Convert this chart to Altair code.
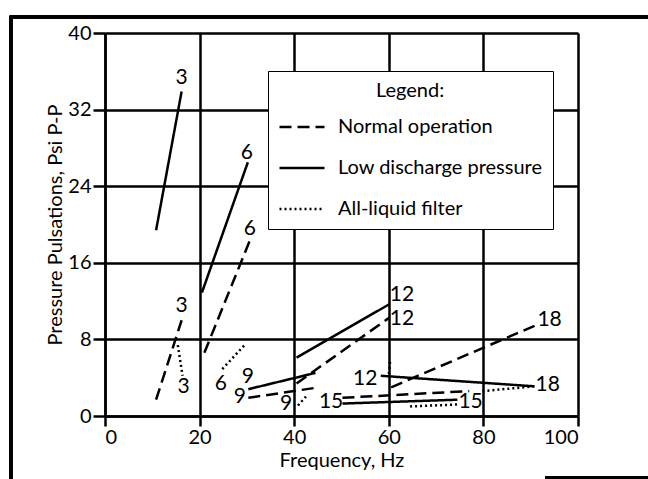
import altair as alt
import pandas as pd

FONT = "Lato"

series_names = ["Normal operation", "Low discharge pressure", "All-liquid filter"]

# Normal operation (dashed)
normal_case = ["3", "6", "9", "12", "15", "18"]
normal_f1 = [10.8, 21.0, 30.3, 40.5, 50.2, 60.5]
normal_p1 = [1.7, 6.6, 1.9, 3.4, 1.9, 3.0]
normal_f2 = [16.2, 30.6, 45.3, 60.2, 77.0, 91.2]
normal_p2 = [10.0, 18.3, 3.0, 10.3, 2.6, 9.5]

# Low discharge pressure (solid)
low_case = ["3", "6", "9", "12", "15", "18"]
low_f1 = [10.8, 20.5, 30.3, 40.5, 50.2, 58.3]
low_p1 = [19.4, 12.9, 2.8, 6.1, 1.3, 4.2]
low_f2 = [16.2, 30.2, 44.5, 60.2, 74.5, 90.8]
low_p2 = [33.9, 26.5, 4.5, 11.7, 1.7, 3.1]

# All-liquid filter (dotted)
filter_case = ["3", "6", "9", "12", "15", "18"]
filter_f1 = [15.4, 24.8, 40.8, 60.0, 64.5, 79.8]
filter_p1 = [7.4, 4.9, 1.1, 4.4, 1.0, 2.6]
filter_f2 = [16.4, 29.5, 42.8, 60.3, 74.5, 90.8]
filter_p2 = [4.2, 7.4, 2.2, 5.8, 1.2, 3.1]

# Curve labels
label_text = ["3", "6", "6", "3", "3", "6", "9", "9", "9", "15", "15", "12", "12", "12", "18", "18"]
label_f = [16.2, 30.0, 30.6, 16.2, 16.6, 24.5, 30.2, 28.5, 38.3, 47.8, 77.3, 62.8, 62.8, 55.0, 94.0, 93.6]
label_p = [35.3, 27.5, 19.5, 11.5, 3.0, 3.3, 4.1, 2.0, 1.3, 1.5, 1.5, 12.6, 10.1, 3.9, 10.0, 3.2]

x_ticks = [0, 20, 40, 60, 80, 100]
y_ticks = [0, 8, 16, 24, 32, 40]

rows = []
for name, cases, f1, p1, f2, p2 in [
    (series_names[0], normal_case, normal_f1, normal_p1, normal_f2, normal_p2),
    (series_names[1], low_case, low_f1, low_p1, low_f2, low_p2),
    (series_names[2], filter_case, filter_f1, filter_p1, filter_f2, filter_p2),
]:
    for c, a, b, d, e in zip(cases, f1, p1, f2, p2):
        rows.append({"series": name, "case": c, "f": a, "p": b, "f2": d, "p2": e})
seg_df = pd.DataFrame(rows)
lab_df = pd.DataFrame({"t": label_text, "f": label_f, "p": label_p})

LW = 2.5
x_axis = alt.Axis(values=x_ticks, title="Frequency, Hz", grid=True, gridColor="black",
                  gridWidth=LW, gridOpacity=1, domainColor="black", domainWidth=LW,
                  tickColor="black", tickWidth=LW, tickSize=10, labelFontSize=20,
                  labelColor="black", labelFont=FONT, titleFont=FONT, titleFontSize=20,
                  titleFontWeight="normal", titleColor="black", labelPadding=1, titlePadding=3)
y_axis = alt.Axis(values=y_ticks, title="Pressure Pulsations, Psi P-P", grid=True,
                  gridColor="black", gridWidth=LW, gridOpacity=1, domainColor="black",
                  domainWidth=LW, tickColor="black", tickWidth=LW, tickSize=12,
                  labelFontSize=20, labelColor="black", labelFont=FONT, titleFont=FONT,
                  titleFontSize=20, titleFontWeight="normal", titleColor="black",
                  labelPadding=2, titlePadding=2)
x_scale = alt.Scale(domain=[0, 100], nice=False)
y_scale = alt.Scale(domain=[0, 40], nice=False)

segs = alt.Chart(seg_df).mark_rule(color="black", strokeWidth=LW).encode(
    x=alt.X("f:Q", scale=x_scale, axis=x_axis),
    y=alt.Y("p:Q", scale=y_scale, axis=y_axis),
    x2="f2:Q",
    y2="p2:Q",
    strokeDash=alt.StrokeDash(
        "series:N",
        scale=alt.Scale(domain=series_names, range=[[12, 6], [1, 0], [2, 3]]),
        legend=alt.Legend(
            title="Legend:", orient="none", legendX=163, legendY=38, direction="vertical",
            fillColor="white", strokeColor="black", padding=10,
            titleFontSize=20, titleFontWeight="normal", titleFont=FONT, titleColor="black",
            titleAnchor="middle", titlePadding=2,
            labelFontSize=20, labelFont=FONT, labelColor="black", labelOffset=12,
            labelLimit=400, symbolType="stroke", symbolSize=2025, symbolStrokeWidth=LW,
            symbolStrokeColor="black", rowPadding=7,
        ),
    ),
)

labels = alt.Chart(lab_df).mark_text(font=FONT, fontSize=21, color="black",
                                     align="center", baseline="middle").encode(
    x=alt.X("f:Q", scale=x_scale, axis=x_axis),
    y=alt.Y("p:Q", scale=y_scale, axis=y_axis),
    text="t:N",
)

frame = alt.Chart(lab_df).mark_rect(fillOpacity=0, stroke="black", strokeWidth=LW).encode(
    x=alt.value(-94), x2=alt.value(800), y=alt.value(-16), y2=alt.value(800)
)
frag = alt.Chart(lab_df).mark_rule(color="black", strokeWidth=LW).encode(
    x=alt.value(440), x2=alt.value(560), y=alt.value(445)
)

chart = alt.layer(frame, frag, segs, labels).properties(
    width=473, height=383,
    padding={"left": 105, "top": 33, "right": 70, "bottom": 63},
    autosize=alt.AutoSizeParams(type="none"),
).configure_view(stroke="black", strokeWidth=LW).configure(background="white")

chart.save("out.html", embed_options={"renderer": "svg", "actions": False})
